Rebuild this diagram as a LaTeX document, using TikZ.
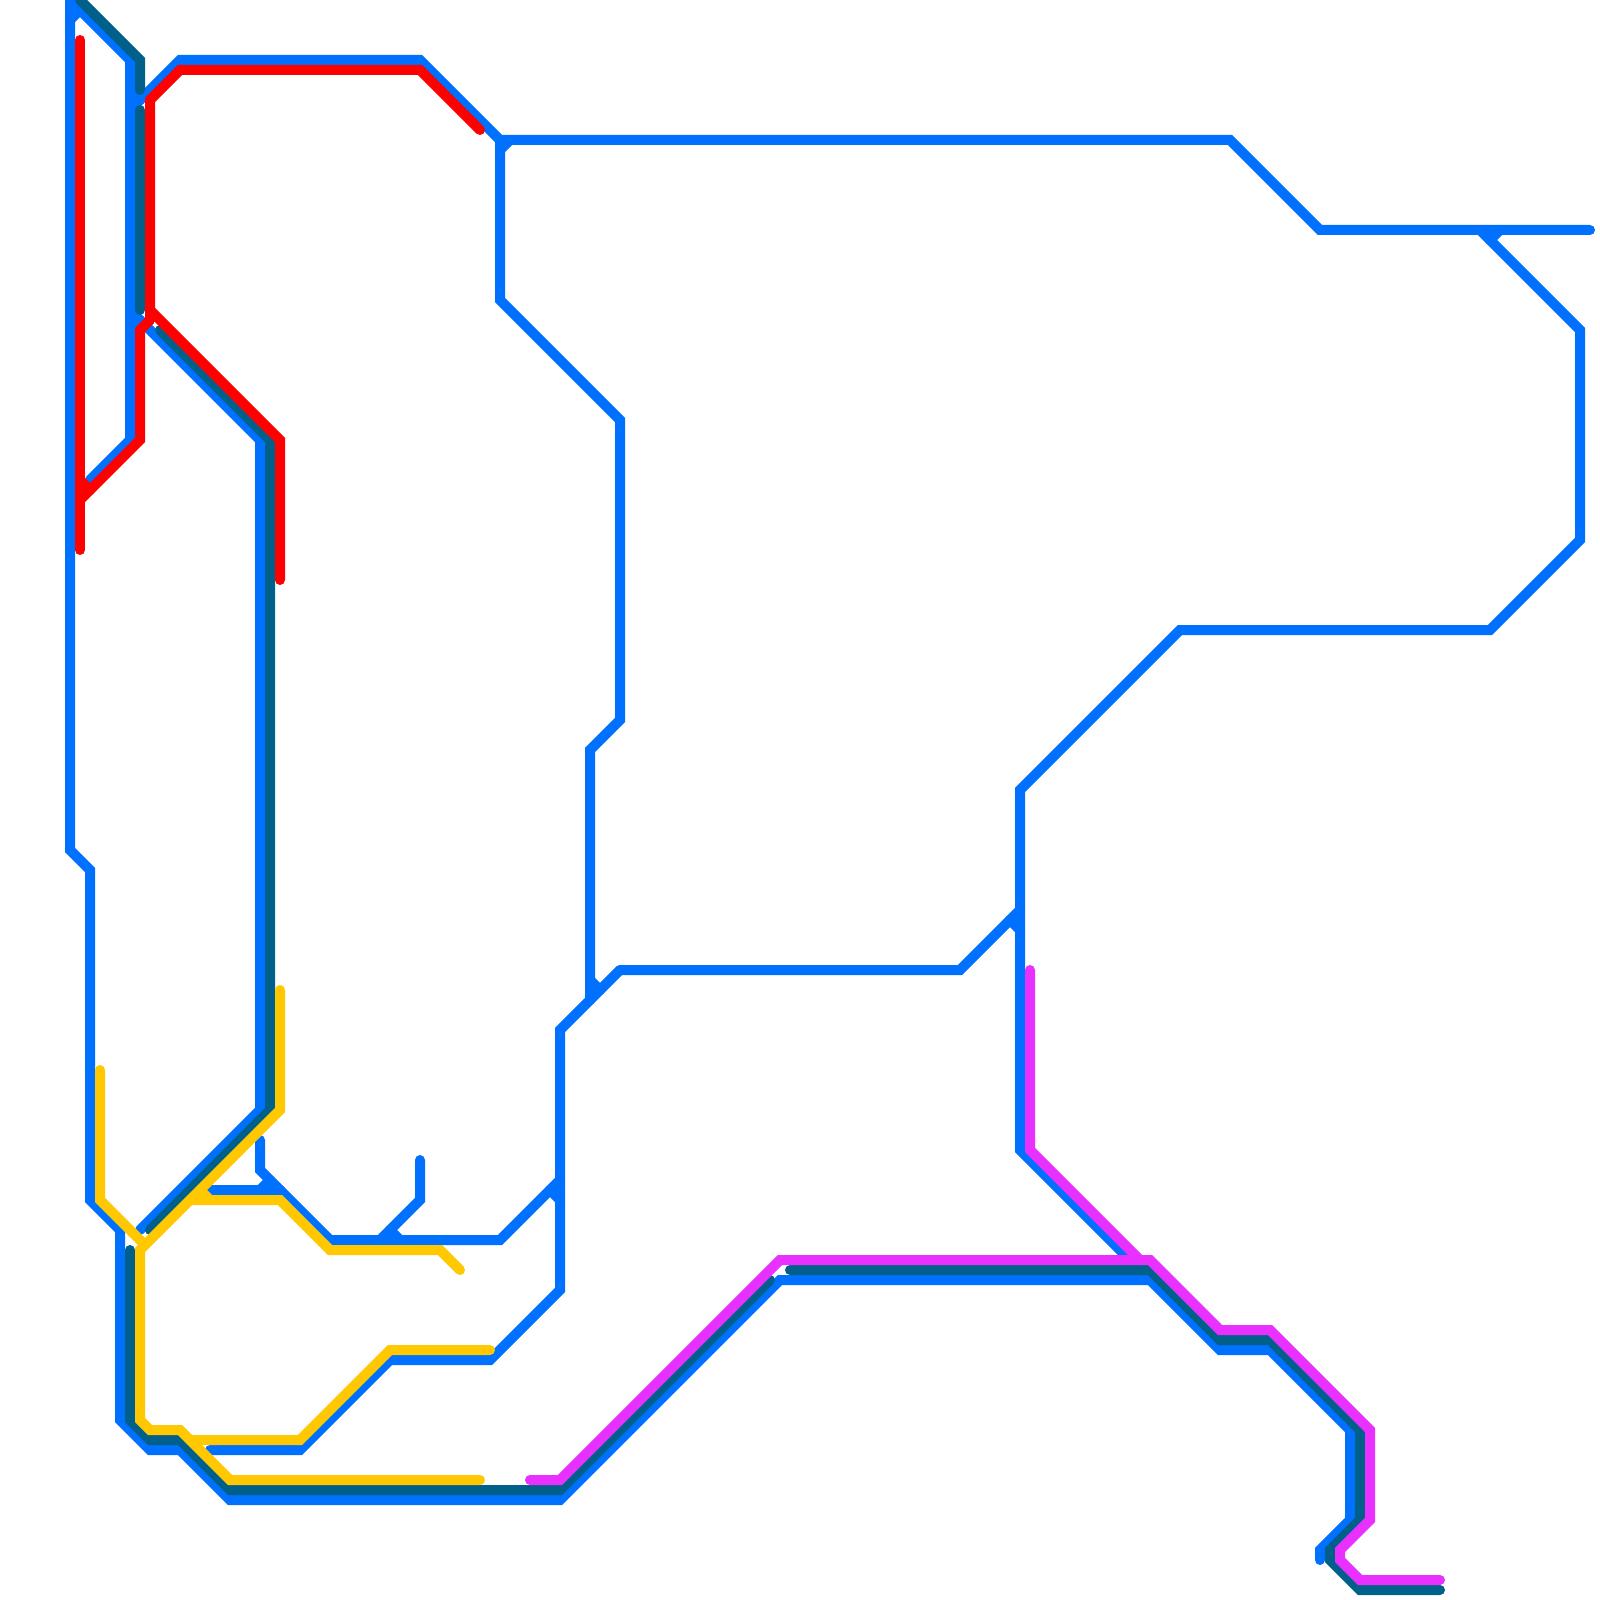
\documentclass[tikz,border=0pt]{standalone}
\usepackage{tikz}
\definecolor{lineblue}{RGB}{0,112,255}
\definecolor{linedark}{RGB}{0,96,138}
\definecolor{linered}{RGB}{255,0,0}
\definecolor{lineyellow}{RGB}{255,200,0}
\definecolor{linemagenta}{RGB}{232,48,255}

\begin{document}
\begin{tikzpicture}[x=1mm, y=-1mm,
    route/.style={line width=1mm, line cap=round, line join=miter},
    blueroute/.style={route, draw=lineblue},
    darkroute/.style={route, draw=linedark},
    redroute/.style={route, draw=linered},
    yellowroute/.style={route, draw=lineyellow},
    magentaroute/.style={route, draw=linemagenta}]
  \useasboundingbox (0,0) rectangle (160,160);

  % blue
  \draw[blueroute] (7,0) -- (7,85) -- (9,87) -- (9,120) -- (12,123) -- (12,142) -- (15,145)
    -- (18,145) -- (23,150) -- (56,150) -- (78,128) -- (115,128) -- (122,135) -- (127,135)
    -- (135,143) -- (135,152) -- (132,155) -- (132,156);
  \draw[blueroute] (7,0) -- (13,6) -- (13,44) -- (9,48);
  \draw[blueroute] (13,11) -- (18,6) -- (42,6) -- (50,14) -- (123,14) -- (132,23) -- (159,23);
  \draw[blueroute] (148,23) -- (158,33) -- (158,54) -- (149,63) -- (118,63) -- (102,79)
    -- (102,115) -- (113,126);
  \draw[blueroute] (50,14) -- (50,30) -- (62,42) -- (62,72) -- (59,75) -- (59,100);
  \draw[blueroute] (13,31) -- (26,44) -- (26,111) -- (14,123);
  \draw[blueroute] (62,97) -- (56,103) -- (56,129) -- (49,136) -- (39,136) -- (30,145) -- (21,145);
  \draw[blueroute] (62,97) -- (96,97) -- (102,91);
  \draw[blueroute] (26,114) -- (26,117) -- (33,124) -- (50,124) -- (56,118);
  \draw[blueroute] (21,119) -- (28,119);
  \draw[blueroute] (42,116) -- (42,120) -- (38,124);
  % short joins
  \foreach \a/\b/\c/\d in {8/1/7/2, 14/8/14/10, 13/33/14/32, 26/119/27/118, 39/123/40/124,
                           55/119/56/120, 51/14/50/15, 59/98/60/99, 101/92/102/93, 149/24/150/23}
    \draw[blueroute] (\a,\b) -- (\c,\d);

  % dark
  \draw[darkroute] (8,0) -- (14,6) -- (14,9);
  \draw[darkroute] (14,11) -- (14,31);
  \draw[darkroute] (16,33) -- (27,44) -- (27,111) -- (15,123);
  \draw[darkroute] (13,125) -- (13,142) -- (15,144) -- (18,144) -- (23,149) -- (56,149) -- (77,128);
  \draw[darkroute] (79,127) -- (115,127) -- (122,134) -- (127,134) -- (136,143) -- (136,152)
    -- (133,155) -- (133,156) -- (136,159) -- (144,159);

  % red
  \draw[redroute] (8,4) -- (8,55);
  \draw[redroute] (48,13) -- (42,7) -- (18,7) -- (15,10) -- (15,32);
  \draw[redroute] (15,31) -- (28,44) -- (28,58);
  \draw[redroute] (15,32) -- (14,33) -- (14,44) -- (8,50);
  \draw[redroute] (8,48) -- (9,49);

  % yellow
  \draw[yellowroute] (10,107) -- (10,120) -- (14.5,124.5);
  \draw[yellowroute] (28,99) -- (28,111) -- (14,125) -- (14,142) -- (15,143) -- (18,143)
    -- (23,148) -- (48,148);
  \draw[yellowroute] (19,120) -- (28,120) -- (33,125) -- (44,125) -- (46,127);
  \draw[yellowroute] (20,119) -- (21,120);
  \draw[yellowroute] (19,144) -- (30,144) -- (39,135) -- (49,135);

  % magenta
  \draw[magentaroute] (53,148) -- (56,148) -- (78,126) -- (115,126) -- (122,133) -- (127,133)
    -- (137,143) -- (137,152) -- (134,155) -- (134,156) -- (136,158) -- (144,158);
  \draw[magentaroute] (103,97) -- (103,115) -- (114,126);
\end{tikzpicture}
\end{document}
